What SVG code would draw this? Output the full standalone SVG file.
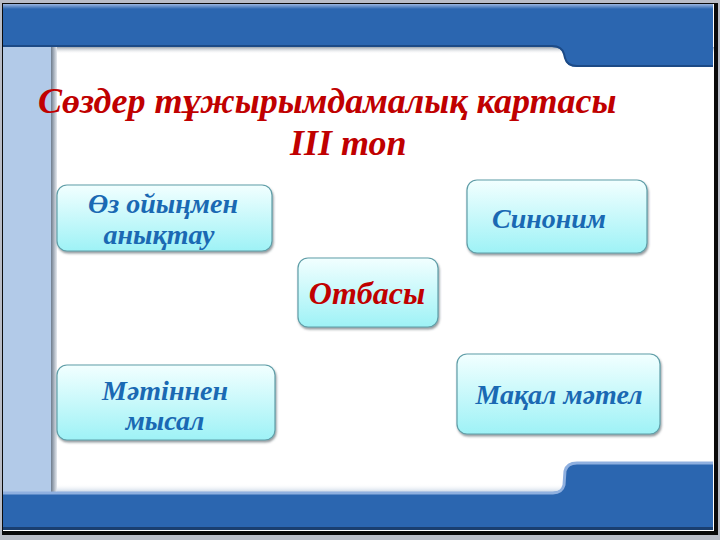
<svg xmlns="http://www.w3.org/2000/svg" width="720" height="540" viewBox="0 0 720 540">
<style>
.t{font-family:"Liberation Serif","Times New Roman",serif;font-weight:bold;font-style:italic}
.title{fill:#c00000;font-size:36px}
.lbl{fill:#1a69b3;font-size:28px}
.red{fill:#c00000;font-size:32px}
.box{fill:url(#boxg);stroke:#5f9ea8;stroke-width:1.2;filter:url(#sh)}
.band{fill:#2b66b0}
</style>
<defs>
<linearGradient id="boxg" x1="0" y1="0" x2="0" y2="1">
<stop offset="0" stop-color="#f2ffff"/>
<stop offset="1" stop-color="#9ef2f6"/>
</linearGradient>
<linearGradient id="colsh" x1="0" y1="0" x2="1" y2="0">
<stop offset="0" stop-color="#6c7b8c"/>
<stop offset="1" stop-color="#e6eaf0"/>
</linearGradient>
<linearGradient id="topsh" x1="0" y1="0" x2="0" y2="1">
<stop offset="0" stop-color="#9aa3ad"/>
<stop offset="1" stop-color="#ffffff" stop-opacity="0"/>
</linearGradient>
<linearGradient id="botsh" x1="0" y1="1" x2="0" y2="0">
<stop offset="0" stop-color="#c9d6e6"/>
<stop offset="1" stop-color="#ffffff" stop-opacity="0"/>
</linearGradient>
<linearGradient id="hl" x1="0" y1="0" x2="0" y2="1">
<stop offset="0" stop-color="#9bb6e0"/>
<stop offset="1" stop-color="#2b66b0"/>
</linearGradient>
<filter id="sh" x="-10%" y="-10%" width="120%" height="130%">
<feDropShadow dx="1" dy="2" stdDeviation="1.2" flood-color="#3a4a50" flood-opacity="0.55"/>
</filter>
</defs>
<g id="background">
<rect x="0" y="0" width="720" height="540" fill="#b9bdc7"/>
<rect x="2" y="3" width="716" height="532" fill="#0a0a0a"/>
<rect x="3" y="4" width="711" height="527" fill="#ffffff"/>
<rect x="57" y="47" width="657" height="7" fill="url(#topsh)"/>
<rect x="57" y="484" width="510" height="8" fill="url(#botsh)"/>
<rect x="3" y="47" width="48" height="445" fill="#b2cae8"/>
<rect x="51" y="47" width="6" height="445" fill="url(#colsh)"/>
<path class="band" d="M3,4 H713 V67 H577 Q567,67 565,59 L564,55 Q562,47 552,47 H3 Z"/>
<rect x="3" y="4" width="710" height="5" fill="url(#hl)"/>
<path d="M3,46 H552 Q562,46 564,54 L565,58 Q567,66 577,66 H713" fill="none" stroke="#1c4a86" stroke-width="2"/>
<path class="band" d="M3,492 H553 Q562,492 564,484 L565,470 Q567,462 577,462 H713 V530 H3 Z"/>
<path d="M3,493 H553 Q562,493 564,485 L565,471 Q567,463 577,463 H713" fill="none" stroke="#8fb0e0" stroke-width="3"/>
<rect x="3" y="527" width="710" height="3" fill="#1a3f70"/>
</g>
<g id="title" class="t">
<text class="title" x="38" y="113">Сөздер тұжырымдамалық картасы</text>
<text class="title" x="290" y="155">III топ</text>
</g>
<g id="connectors"/>
<g id="node-oz">
<rect class="box" x="57" y="185" width="215" height="66" rx="10"/>
<text class="t lbl" x="163" y="213" text-anchor="middle">Өз ойыңмен</text>
<text class="t lbl" x="159" y="244" text-anchor="middle">анықтау</text>
</g>
<g id="node-sinonim">
<rect class="box" x="467" y="180" width="180" height="73" rx="10"/>
<text class="t lbl" x="549" y="228" text-anchor="middle">Синоним</text>
</g>
<g id="node-otbasy">
<rect class="box" x="298" y="258" width="140" height="69" rx="10"/>
<text class="t red" x="367" y="304" text-anchor="middle">Отбасы</text>
</g>
<g id="node-matin">
<rect class="box" x="57" y="365" width="218" height="75" rx="10"/>
<text class="t lbl" x="165" y="400" text-anchor="middle">Мәтіннен</text>
<text class="t lbl" x="165" y="430" text-anchor="middle">мысал</text>
</g>
<g id="node-makal">
<rect class="box" x="457" y="354" width="203" height="80" rx="10"/>
<text class="t lbl" x="559" y="404" text-anchor="middle">Мақал мәтел</text>
</g>
</svg>
